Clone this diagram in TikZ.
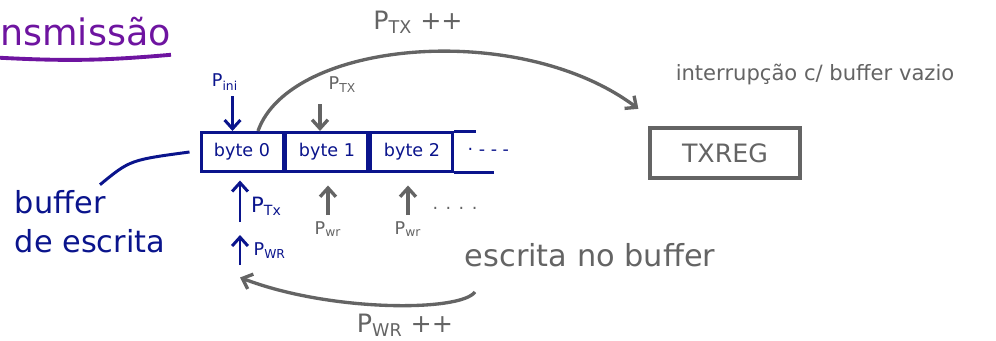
\documentclass[tikz,border=0pt]{standalone}
\usepackage{fontspec}
\setmainfont{DejaVu Sans}
\usetikzlibrary{positioning, arrows.meta}
\definecolor{inkblue}{RGB}{10,20,140}
\definecolor{inkgray}{RGB}{100,100,100}
\definecolor{inkpurple}{RGB}{110,20,160}

\begin{document}
\begin{tikzpicture}[x=0.02cm, y=-0.02cm,
					blueink/.style={draw=inkblue, text=inkblue, line width=1.7pt},
					grayink/.style={draw=inkgray, text=inkgray, line width=1.9pt},
					cell/.style={blueink, minimum width=1.64cm, minimum height=0.78cm, inner sep=0pt},
					ptr/.style={-{Straight Barb[length=5pt, width=9pt]}}]
					\useasboundingbox (0,0) rectangle (996,341);
					% titulo
					\node[text=inkpurple, font=\huge, anchor=west, inner sep=0pt] (titulo) at (0,32) {nsmissão};
					\draw[inkpurple, line width=2.2pt] ([yshift=-0.22cm]titulo.south west) to[bend right=4] ([yshift=-0.16cm]titulo.south east);
					% buffer
					\node[cell] (b0) at (242,152) {byte 0};
					\node[cell, right=0pt of b0] (b1) {byte 1};
					\node[cell, right=0pt of b1] (b2) {byte 2};
					\draw[blueink] (b2.north east) -- ++(22,0);
					\draw[blueink] (b2.south east) -- ++(40,0);
					\node[text=inkblue, right=4pt of b2] (mais) {· - - -};
					\node[text=inkblue, font=\LARGE, align=left] (rotulo) at (90,222) {buffer\\de escrita};
					\draw[blueink] ([xshift=0.2cm]rotulo.north) .. controls (130,160) .. ([xshift=-0.2cm]b0.west);
					% ponteiros de cima
					\node[text=inkblue] (pini) at (225,82) {P\textsubscript{ini}};
					\draw[blueink, ptr] ([xshift=0.15cm]pini.south) -- ([xshift=0.15cm]pini.south |- b0.north);
					\coordinate (ptx-pe) at (320,104);
					\draw[grayink, ptr] (ptx-pe) -- (ptx-pe |- b1.north);
					\node[text=inkgray, anchor=south west] (ptx) at ([shift={(0.05cm,0.1cm)}]ptx-pe) {P\textsubscript{TX}};
					% ponteiros de baixo
					\coordinate (ptxb-pe) at (240,222);
					\draw[blueink, ptr] (ptxb-pe) -- ([yshift=-0.15cm]ptxb-pe |- b0.south);
					\node[text=inkblue, font=\large, anchor=south west] (ptxb) at ([xshift=0.1cm]ptxb-pe) {P\textsubscript{Tx}};
					\coordinate (pwrb-pe) at (240,265);
					\draw[blueink, ptr] (pwrb-pe) -- ++(0,-30);
					\node[text=inkblue, anchor=south west] (pwrb) at ([xshift=0.15cm]pwrb-pe) {P\textsubscript{WR}};
					\coordinate (pwr1-pe) at (328,215);
					\draw[grayink, ptr] (pwr1-pe) -- ([yshift=-0.25cm]pwr1-pe |- b1.south);
					\node[text=inkgray, below=0pt of pwr1-pe] (pwr1) {P\textsubscript{wr}};
					\coordinate (pwr2-pe) at (408,215);
					\draw[grayink, ptr] (pwr2-pe) -- ([yshift=-0.25cm]pwr2-pe |- b2.south);
					\node[text=inkgray, below=0pt of pwr2-pe] (pwr2) {P\textsubscript{wr}};
					\node[text=inkgray] (pontos) at (455,208) {. . . .};
					% registrador
					\node[grayink, font=\Large, minimum width=3cm, minimum height=1cm] (txreg) at (725,153) {TXREG};
					\node[text=inkgray, font=\large] (interr) at (815,75) {interrupção c/ buffer vazio};
					\draw[grayink, ptr] ([xshift=0.32cm]b0.north) .. controls (290,40) and (520,20) .. ([shift={(-0.2cm,0.35cm)}]txreg.north west);
					\node[text=inkgray, font=\Large] (ptxinc) at (418,22) {P\textsubscript{TX} ++};
					% escrita
					\node[text=inkgray, font=\LARGE] (escrita) at (590,255) {escrita no buffer};
					\coordinate (volta) at (475,292);
					\draw[grayink, ptr] (volta) .. controls (460,312) and (330,312) .. ([shift={(-0.15cm,-0.25cm)}]pwrb.south west);
					\node[text=inkgray, font=\Large] (pwrinc) at (405,325) {P\textsubscript{WR} ++};
				\end{tikzpicture}
\end{document}
